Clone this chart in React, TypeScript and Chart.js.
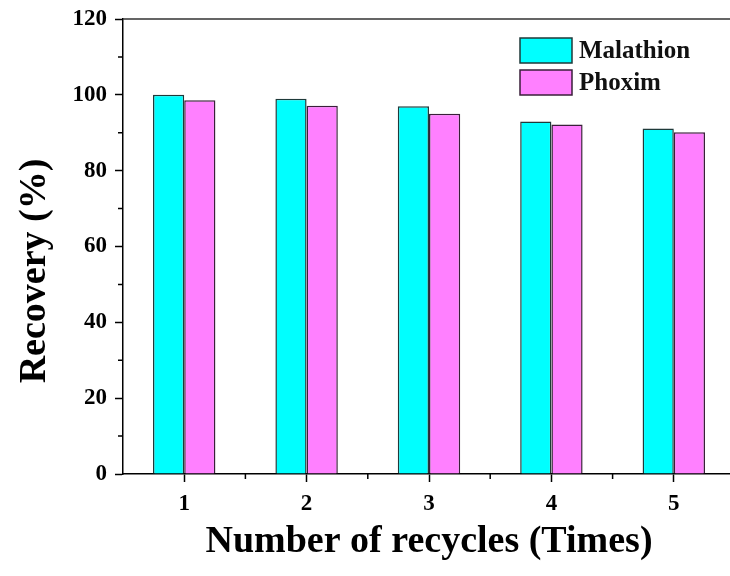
import React, { useEffect, useRef } from "react";
import { Chart, registerables } from "chart.js";

Chart.register(...registerables);

const cycles = [1, 2, 3, 4, 5];
const xTickLabels = ["1", "2", "3", "4", "5"];
const malathion = [100, 99, 97, 93, 91.1];
const phoxim = [98.6, 97.1, 95, 92.2, 90.1];
const seriesNames = ["Malathion", "Phoxim"];
const yTickValues = [0, 20, 40, 60, 80, 100, 120];
const yTitle = "Recovery (%)";
const xTitle = "Number of recycles (Times)";

const FONT = "'Liberation Serif', 'Times New Roman', serif";

const extrasPlugin = {
  id: "extras",
  afterDraw(chart: any) {
    const { ctx, chartArea } = chart;
    const xs = chart.scales.x;
    const ys = chart.scales.y;
    ctx.save();
    // top frame line
    ctx.strokeStyle = "#333";
    ctx.lineWidth = 1.5;
    ctx.beginPath();
    ctx.moveTo(chartArea.left, chartArea.top);
    ctx.lineTo(chartArea.right, chartArea.top);
    ctx.moveTo(chartArea.right, chartArea.top);
    ctx.lineTo(chartArea.right, chartArea.bottom);
    ctx.stroke();
    // minor ticks
    ctx.strokeStyle = "#000";
    ctx.beginPath();
    for (let v = 10; v < 120; v += 20) {
      const y = ys.getPixelForValue(v);
      ctx.moveTo(chartArea.left - 5, y);
      ctx.lineTo(chartArea.left, y);
    }
    for (let i = 0; i < cycles.length; i++) {
      const x = xs.getPixelForValue(cycles[i] + 0.5);
      ctx.moveTo(x, chartArea.bottom);
      ctx.lineTo(x, chartArea.bottom + 5);
    }
    ctx.stroke();
    // y title
    ctx.fillStyle = "#000";
    ctx.font = `bold 38px ${FONT}`;
    ctx.textAlign = "center";
    ctx.textBaseline = "middle";
    ctx.translate(35, 271);
    ctx.rotate(-Math.PI / 2);
    ctx.fillText(yTitle, 0, 0);
    ctx.restore();

    // legend
    ctx.save();
    const ds = chart.data.datasets;
    const bx = 520, by = 38, bw = 52, bh = 25, gap = 32;
    ctx.font = `bold 25px ${FONT}`;
    ctx.textAlign = "left";
    ctx.textBaseline = "middle";
    ds.forEach((d: any, i: number) => {
      const y = by + i * gap;
      ctx.fillStyle = d.backgroundColor;
      ctx.fillRect(bx, y, bw, bh);
      ctx.strokeStyle = d.borderColor;
      ctx.lineWidth = 1.5;
      ctx.strokeRect(bx, y, bw, bh);
      ctx.fillStyle = "#111";
      ctx.fillText(d.label, bx + bw + 7, y + bh / 2 + 1);
    });
    ctx.restore();
  },
};

export default function App() {
  const ref = useRef<HTMLCanvasElement | null>(null);

  useEffect(() => {
    if (!ref.current) return;
    const chart = new Chart(ref.current, {
      type: "bar",
      data: {
        datasets: [
          {
            label: seriesNames[0],
            data: cycles.map((c, i) => ({ x: c, y: malathion[i] })),
            backgroundColor: "#00FFFF",
            borderColor: "#1f3a3a",
            borderWidth: 1.5,
            categoryPercentage: 0.51,
            barPercentage: 1,
          },
          {
            label: seriesNames[1],
            data: cycles.map((c, i) => ({ x: c, y: phoxim[i] })),
            backgroundColor: "#FF80FF",
            borderColor: "#3a1f3a",
            borderWidth: 1.5,
            categoryPercentage: 0.51,
            barPercentage: 1,
          },
        ],
      },
      options: {
        animation: false,
        responsive: false,
        layout: { padding: { left: 0, top: 19, right: 5, bottom: 0 } },
        plugins: {
          legend: { display: false },
          tooltip: { enabled: false },
        },
        scales: {
          x: {
            type: "linear",
            min: 0.5,
            max: 5.5,
            offset: false,
            afterBuildTicks: (scale: any) => {
              scale.ticks = cycles.map((v) => ({ value: v }));
            },
            afterFit: (scale: any) => {
              scale.height = 102;
              scale.paddingLeft = 0;
              scale.paddingRight = 0;
            },
            ticks: {
              color: "#000",
              font: { family: FONT, size: 23, weight: "bold" },
              padding: 8,
              maxRotation: 0,
              callback: (v: any) => {
                const idx = cycles.indexOf(Number(v));
                return idx >= 0 ? xTickLabels[idx] : "";
              },
            },
            grid: {
              display: true,
              offset: false,
              drawOnChartArea: false,
              drawTicks: true,
              tickLength: 8,
              tickColor: "#000",
              tickWidth: 1.5,
            },
            border: { display: true, color: "#000", width: 1.5 },
            title: {
              display: true,
              text: xTitle,
              color: "#000",
              font: { family: FONT, size: 38, weight: "bold" },
              padding: { top: 0, bottom: 11 },
            },
          },
          y: {
            min: 0,
            max: 120,
            afterBuildTicks: (scale: any) => {
              scale.ticks = yTickValues.map((v) => ({ value: v }));
            },
            afterFit: (scale: any) => {
              scale.width = 123;
              scale.paddingTop = 0;
              scale.paddingBottom = 0;
            },
            ticks: {
              color: "#000",
              font: { family: FONT, size: 23, weight: "bold" },
              padding: 8,
            },
            grid: {
              display: true,
              drawOnChartArea: false,
              drawTicks: true,
              tickLength: 8,
              tickColor: "#000",
              tickWidth: 1.5,
            },
            border: { display: true, color: "#000", width: 1.5 },
          },
        },
      },
      plugins: [extrasPlugin],
    });
    return () => chart.destroy();
  }, []);

  return (
    <div
      style={{
        position: "fixed",
        left: 0,
        top: 0,
        width: 730,
        height: 576,
        overflow: "hidden",
        background: "#fff",
      }}
    >
      <canvas ref={ref} width={740} height={576} style={{ display: "block" }} />
    </div>
  );
}
